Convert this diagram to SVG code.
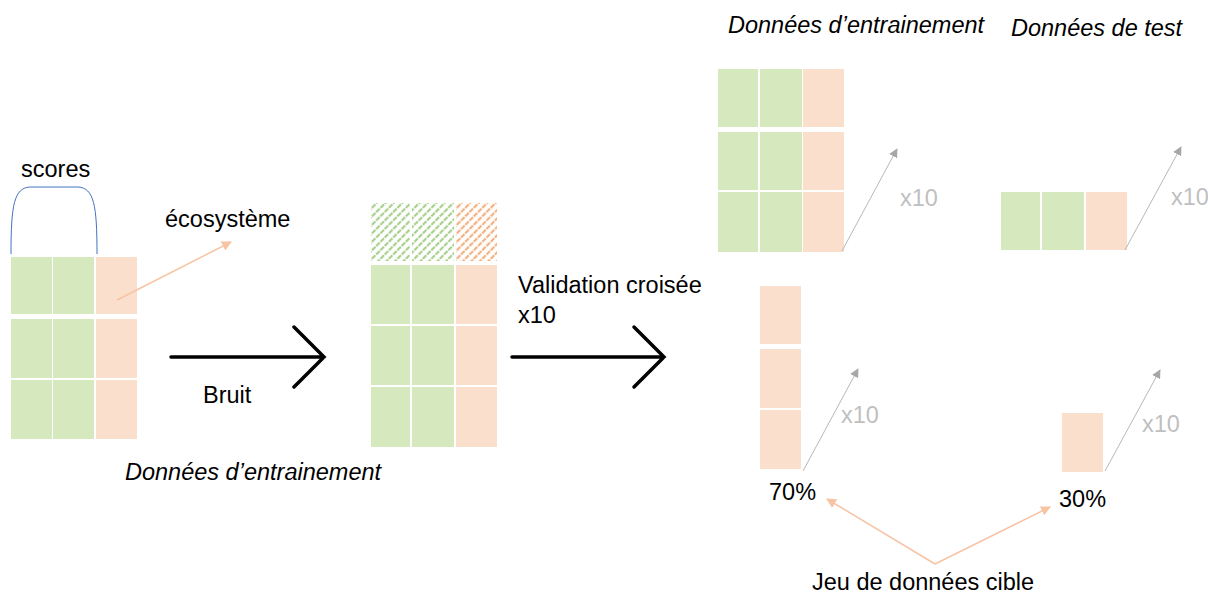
<svg xmlns="http://www.w3.org/2000/svg" width="1208" height="595" viewBox="0 0 1208 595">
<style>
text{font-family:"Liberation Sans",Arial,sans-serif;font-size:23.5px;fill:#000}
.it{font-style:italic}
.gx{fill:#BFBFBF}
.g{fill:#D5E8BE}
.o{fill:#FADFCD}
.gh{fill:url(#hg)}
.oh{fill:url(#ho)}
.big{stroke:#000;stroke-width:3.5;fill:none;stroke-linecap:round;stroke-linejoin:miter}
.gray{stroke:#B8B8B8;stroke-width:1;fill:none}
.pk{stroke:#F6C4A3;stroke-width:1.5;fill:none}
</style>
<defs>
<pattern id="hg" patternUnits="userSpaceOnUse" width="6" height="6" patternTransform="rotate(45)">
<rect width="6" height="6" fill="#fff"/>
<line x1="2" y1="0" x2="2" y2="6" stroke="#A9D18E" stroke-width="2.2" stroke-dasharray="4 1"/>
</pattern>
<pattern id="ho" patternUnits="userSpaceOnUse" width="6" height="6" patternTransform="rotate(45)">
<rect width="6" height="6" fill="#fff"/>
<line x1="2" y1="0" x2="2" y2="6" stroke="#F4B183" stroke-width="2.2" stroke-dasharray="4 1"/>
</pattern>
<marker id="ag" viewBox="0 0 10 10" refX="9" refY="5" markerWidth="9" markerHeight="9" orient="auto" markerUnits="userSpaceOnUse">
<path d="M0,0 L10,5 L0,10 Z" fill="#A6A6A6"/>
</marker>
<marker id="ap" viewBox="0 0 10 10" refX="9" refY="5" markerWidth="10" markerHeight="10" orient="auto" markerUnits="userSpaceOnUse">
<path d="M0,0 L10,5 L0,10 Z" fill="#F6C4A3"/>
</marker>
</defs>
<rect width="1208" height="595" fill="#fff"/>

<g id="source-grid">
<rect class="g" x="11" y="257" width="41" height="57"/>
<rect class="g" x="53" y="257" width="41" height="57"/>
<rect class="o" x="96" y="257" width="41" height="57"/>
<rect class="g" x="11" y="319" width="41" height="59"/>
<rect class="g" x="53" y="319" width="41" height="59"/>
<rect class="o" x="96" y="319" width="41" height="59"/>
<rect class="g" x="11" y="380" width="41" height="59"/>
<rect class="g" x="53" y="380" width="41" height="59"/>
<rect class="o" x="96" y="380" width="41" height="59"/>
</g>
<g id="scores">
<path d="M11,254 C11,205 14,188 30,187 L78,187 C94,188 97,205 97,254" stroke="#4472C4" stroke-width="1" fill="none"/>
<text x="21" y="177">scores</text>
</g>
<g id="ecosysteme">
<text x="165" y="227">écosystème</text>
</g>
<g id="noisy-grid">
<rect class="gh" x="371" y="203" width="39" height="58"/>
<rect class="gh" x="412" y="203" width="42" height="58"/>
<rect class="oh" x="456" y="203" width="41" height="58"/>
<rect class="g" x="371" y="265" width="39" height="59"/>
<rect class="g" x="412" y="265" width="42" height="59"/>
<rect class="o" x="456" y="265" width="41" height="59"/>
<rect class="g" x="371" y="326" width="39" height="59"/>
<rect class="g" x="412" y="326" width="42" height="59"/>
<rect class="o" x="456" y="326" width="41" height="59"/>
<rect class="g" x="371" y="387" width="39" height="60"/>
<rect class="g" x="412" y="387" width="42" height="60"/>
<rect class="o" x="456" y="387" width="41" height="60"/>
<text class="it" x="125" y="480">Données d’entrainement</text>
</g>
<g id="train-grid">
<text class="it" x="728" y="33">Données d’entrainement</text>
<rect class="g" x="718" y="69" width="40" height="58"/>
<rect class="g" x="760" y="69" width="42" height="58"/>
<rect class="o" x="803" y="69" width="41" height="58"/>
<rect class="g" x="718" y="132" width="40" height="58"/>
<rect class="g" x="760" y="132" width="42" height="58"/>
<rect class="o" x="803" y="132" width="41" height="58"/>
<rect class="g" x="718" y="192" width="40" height="60"/>
<rect class="g" x="760" y="192" width="42" height="60"/>
<rect class="o" x="803" y="192" width="41" height="60"/>
<text class="gx" x="900" y="206">x10</text>
</g>
<g id="test-grid">
<text class="it" x="1011" y="36">Données de test</text>
<rect class="g" x="1001" y="192" width="39" height="58"/>
<rect class="g" x="1042" y="192" width="42" height="58"/>
<rect class="o" x="1086" y="192" width="41" height="58"/>
<text class="gx" x="1171" y="205">x10</text>
</g>
<g id="target-70">
<rect class="o" x="760" y="286" width="41" height="58"/>
<rect class="o" x="760" y="349" width="41" height="59"/>
<rect class="o" x="760" y="410" width="41" height="59"/>
<text class="gx" x="841" y="423">x10</text>
<text x="769" y="500">70%</text>
</g>
<g id="target-30">
<rect class="o" x="1062" y="413" width="41" height="59"/>
<text class="gx" x="1142" y="432">x10</text>
<text x="1059" y="507">30%</text>
</g>
<g id="target-label">
<text x="812" y="590">Jeu de données cible</text>
</g>
<g id="labels">
<text x="203" y="403">Bruit</text>
<text x="518" y="293">Validation croisée</text>
<text x="518" y="323">x10</text>
</g>
<g id="connectors">
<line class="pk" x1="117" y1="300" x2="231" y2="242" marker-end="url(#ap)"/>
<path class="big" d="M171,357 H324 M294,327 L324,357 L294,387"/>
<path class="big" d="M512,357 H664 M634,327 L664,357 L634,387"/>
<line class="gray" x1="842" y1="251" x2="897" y2="149" marker-end="url(#ag)"/>
<line class="gray" x1="1125" y1="250" x2="1181" y2="147" marker-end="url(#ag)"/>
<line class="gray" x1="803" y1="471" x2="858" y2="369" marker-end="url(#ag)"/>
<line class="gray" x1="1105" y1="471" x2="1160" y2="370" marker-end="url(#ag)"/>
<line class="pk" x1="935" y1="564" x2="827" y2="499" marker-end="url(#ap)"/>
<line class="pk" x1="935" y1="564" x2="1050" y2="507" marker-end="url(#ap)"/>
</g>
</svg>
